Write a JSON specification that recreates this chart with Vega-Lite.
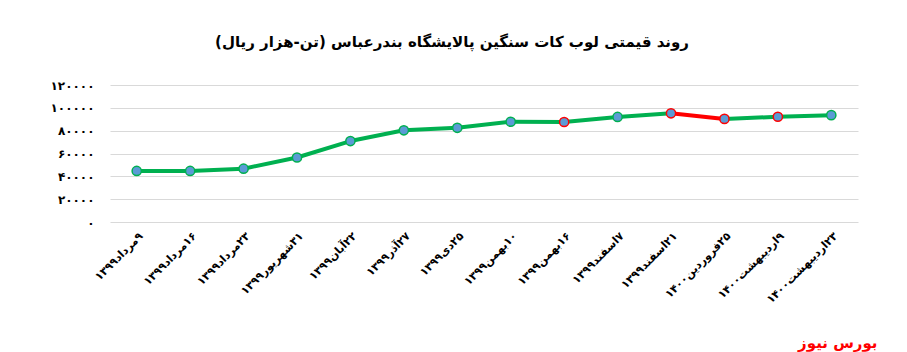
{
  "$schema": "https://vega.github.io/schema/vega-lite/v6.json",
  "autosize": "none",
  "width": 748,
  "height": 137,
  "padding": {"left": 110, "top": 85, "right": 49, "bottom": 130},
  "background": "white",
  "config": {"view": {"stroke": null}, "font": "DejaVu Sans"},
  "title": {
    "text": "‏روند قیمتی لوب کات سنگین پالایشگاه بندرعباس (تن-هزار ریال)‏",
    "font": "DejaVu Sans",
    "fontSize": 15,
    "fontWeight": "bold",
    "color": "#000000",
    "anchor": "middle",
    "dx": -32,
    "offset": 29
  },
  "data": {
    "values": [
      {"date": "۹مرداد۱۳۹۹", "price": 44700, "flag": "n", "trend": "up"},
      {"date": "۱۶مرداد۱۳۹۹", "price": 44700, "flag": "n", "trend": "up"},
      {"date": "۲۳مرداد۱۳۹۹", "price": 46700, "flag": "n", "trend": "up"},
      {"date": "۳۱شهریور۱۳۹۹", "price": 56500, "flag": "n", "trend": "up"},
      {"date": "۲۲آبان۱۳۹۹", "price": 70900, "flag": "n", "trend": "up"},
      {"date": "۲۷آذر۱۳۹۹", "price": 80300, "flag": "n", "trend": "up"},
      {"date": "۲۵دی۱۳۹۹", "price": 82500, "flag": "n", "trend": "up"},
      {"date": "۱۰بهمن۱۳۹۹", "price": 87800, "flag": "n", "trend": "up"},
      {"date": "۱۶بهمن۱۳۹۹", "price": 87600, "flag": "y", "trend": "up"},
      {"date": "۷اسفند۱۳۹۹", "price": 92000, "flag": "n", "trend": "up"},
      {"date": "۲۱اسفند۱۳۹۹", "price": 95200, "flag": "y", "trend": "up"},
      {"date": "۲۵فروردین۱۴۰۰", "price": 90300, "flag": "y", "trend": "down"},
      {"date": "۹اردیبهشت۱۴۰۰", "price": 92200, "flag": "y", "trend": "up"},
      {"date": "۲۳اردیبهشت۱۴۰۰", "price": 93600, "flag": "n", "trend": "up"}
    ]
  },
  "encoding": {
    "x": {
      "field": "date",
      "type": "nominal",
      "sort": null,
      "scale": {
        "type": "point",
        "padding": 0.5,
        "domain": ["۹مرداد۱۳۹۹", "۱۶مرداد۱۳۹۹", "۲۳مرداد۱۳۹۹", "۳۱شهریور۱۳۹۹", "۲۲آبان۱۳۹۹", "۲۷آذر۱۳۹۹", "۲۵دی۱۳۹۹", "۱۰بهمن۱۳۹۹", "۱۶بهمن۱۳۹۹", "۷اسفند۱۳۹۹", "۲۱اسفند۱۳۹۹", "۲۵فروردین۱۴۰۰", "۹اردیبهشت۱۴۰۰", "۲۳اردیبهشت۱۴۰۰"]
      },
      "axis": {
        "title": "بورس نیوز",
        "titleColor": "#ff0000",
        "titleFont": "DejaVu Sans",
        "titleFontSize": 15,
        "titleFontWeight": "bold",
        "titleAlign": "right",
        "titleBaseline": "middle",
        "titleAnchor": "end",
        "titleX": 767,
        "titleY": 120,
        "labelAngle": -45,
        "labelFontSize": 11,
        "labelFontWeight": "bold",
        "labelColor": "#000000",
        "labelPadding": 8,
        "labelExpr": "'‏' + datum.label",
        "domain": false,
        "ticks": false,
        "grid": false
      }
    },
    "y": {
      "field": "price",
      "type": "quantitative",
      "scale": {"domain": [0, 120000], "nice": false},
      "axis": {
        "title": null,
        "values": [0, 20000, 40000, 60000, 80000, 100000, 120000],
        "format": "d",
        "labelExpr": "replace(replace(replace(replace(replace(replace(replace(replace(replace(replace(datum.label,regexp('0','g'),'۰'),regexp('1','g'),'۱'),regexp('2','g'),'۲'),regexp('3','g'),'۳'),regexp('4','g'),'۴'),regexp('5','g'),'۵'),regexp('6','g'),'۶'),regexp('7','g'),'۷'),regexp('8','g'),'۸'),regexp('9','g'),'۹')",
        "labelFontSize": 12,
        "labelFontWeight": "bold",
        "labelColor": "#000000",
        "labelPadding": 16,
        "domain": false,
        "ticks": false,
        "grid": true,
        "gridColor": "#d9d9d9",
        "gridWidth": 1
      }
    }
  },
  "layer": [
    {
      "transform": [
        {"window": [{"op": "lag", "field": "date", "as": "prevDate"}, {"op": "lag", "field": "price", "as": "prevPrice"}]},
        {"filter": "isValid(datum.prevDate)"}
      ],
      "mark": {"type": "rule", "strokeWidth": 4, "strokeCap": "round"},
      "encoding": {
        "x2": {"field": "prevDate"},
        "y2": {"field": "prevPrice"},
        "color": {
          "field": "trend",
          "type": "nominal",
          "scale": {"domain": ["up", "down"], "range": ["#00b050", "#ff0000"]},
          "legend": null
        }
      }
    },
    {
      "mark": {"type": "point", "filled": false, "size": 85, "strokeWidth": 1.5, "fill": "#5b9bd5", "fillOpacity": 1, "opacity": 1},
      "encoding": {
        "stroke": {
          "field": "flag",
          "type": "nominal",
          "scale": {"domain": ["n", "y"], "range": ["#00b050", "#ff0000"]},
          "legend": null
        }
      }
    }
  ]
}
